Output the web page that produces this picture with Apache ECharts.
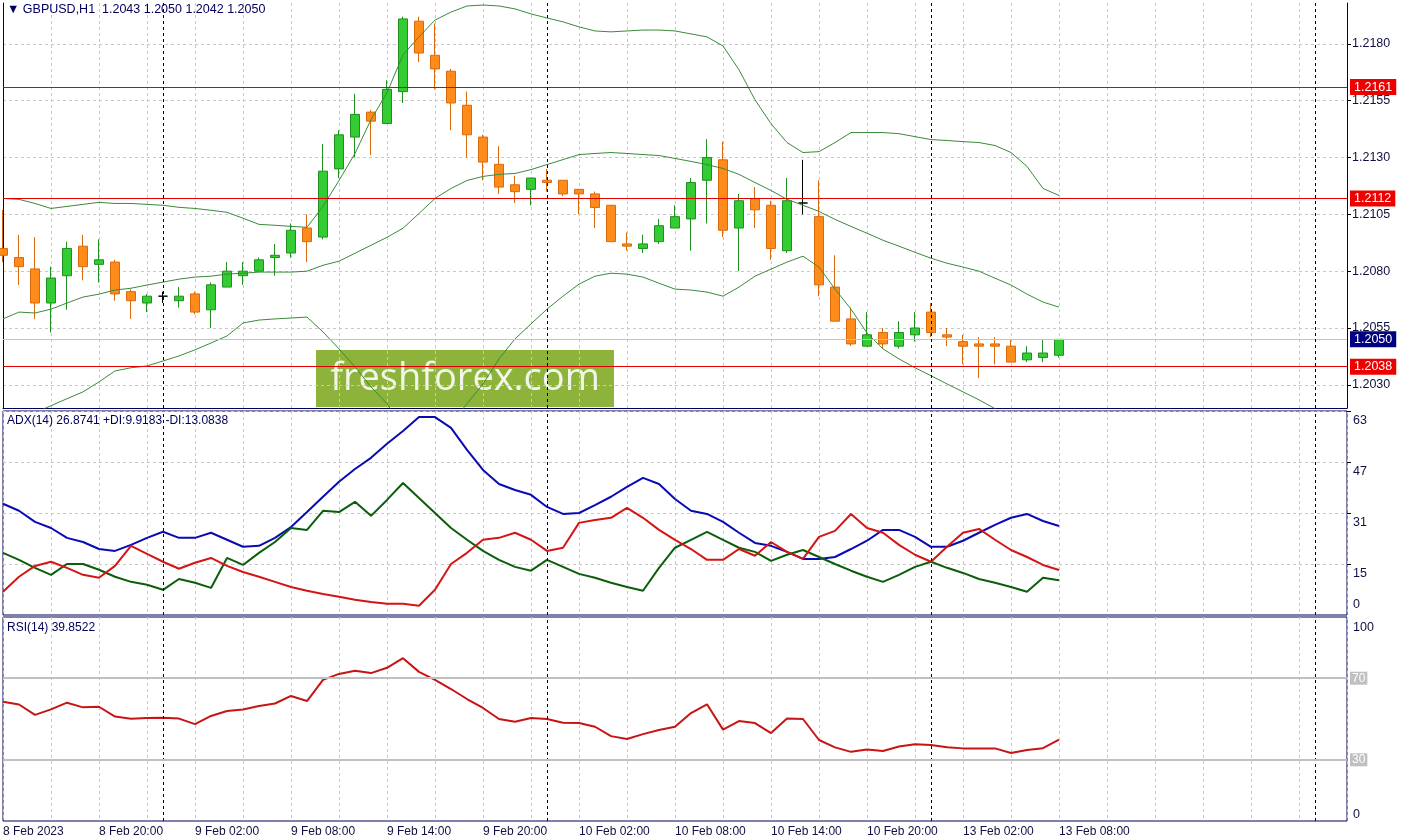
<!DOCTYPE html>
<html><head><meta charset="utf-8">
<script src="https://cdn.jsdelivr.net/npm/echarts@6/dist/echarts.min.js"></script>
<style>html,body{margin:0;padding:0;background:#fff}#c{width:1408px;height:838px}</style>
</head><body><div id="c"></div>
<script>
// ---- categories (hourly bars, H1) ----
const dayHours = [['8 Feb',14,23],['9 Feb',0,23],['10 Feb',0,23],['13 Feb',0,23],['14 Feb',0,2]];
const categories = [];
dayHours.forEach(d => { for (let h = d[1]; h <= d[2]; h++) categories.push(d[0] + ' ' + String(h).padStart(2,'0') + ':00'); });
const tickLabels = ['8 Feb 2023','8 Feb 20:00','9 Feb 02:00','9 Feb 08:00','9 Feb 14:00','9 Feb 20:00','10 Feb 02:00','10 Feb 08:00','10 Feb 14:00','10 Feb 20:00','13 Feb 02:00','13 Feb 08:00'];
const separators = [10,34,58,82];

// ---- GBPUSD H1 prices ----
const opens = [1.2090,1.2086,1.2081,1.2066,1.2078,1.2091,1.2083,1.2084,1.2071,1.2066,1.2069,1.2067,1.2070,1.2063,1.2073,1.2078,1.2080,1.2086,1.2088,1.2099,1.2095,1.2125,1.2139,1.2150,1.2145,1.2159,1.2190,1.2175,1.2168,1.2153,1.2139,1.2127,1.2118,1.2116,1.2120,1.2120,1.2116,1.2114,1.2109,1.2092,1.2090,1.2093,1.2099,1.2103,1.2120,1.2129,1.2099,1.2112,1.2109,1.2089,1.2110,1.2104,1.2073,1.2059,1.2047,1.2053,1.2047,1.2052,1.2062,1.2052,1.2049,1.2048,1.2048,1.2047,1.2041,1.2042,1.2043];
const highs = [1.2107,1.2096,1.2095,1.2082,1.2093,1.2096,1.2094,1.2085,1.2072,1.2070,1.2071,1.2073,1.2071,1.2075,1.2084,1.2084,1.2086,1.2092,1.2101,1.2105,1.2136,1.2142,1.2158,1.2151,1.2164,1.2192,1.2192,1.2189,1.2169,1.2159,1.2140,1.2135,1.2122,1.2121,1.2125,1.2120,1.2116,1.2115,1.2109,1.2097,1.2096,1.2103,1.2109,1.2121,1.2138,1.2137,1.2114,1.2117,1.2111,1.2121,1.2129,1.2120,1.2087,1.2064,1.2062,1.2055,1.2058,1.2062,1.2066,1.2055,1.2052,1.2051,1.2051,1.2050,1.2047,1.2050,1.2050];
const lows = [1.2084,1.2074,1.2059,1.2053,1.2063,1.2076,1.2075,1.2067,1.2059,1.2062,1.2066,1.2064,1.2061,1.2055,1.2073,1.2074,1.2080,1.2078,1.2086,1.2084,1.2094,1.2121,1.2130,1.2131,1.2145,1.2154,1.2172,1.2160,1.2142,1.2130,1.2120,1.2114,1.2110,1.2109,1.2115,1.2113,1.2105,1.2099,1.2093,1.2089,1.2088,1.2092,1.2099,1.2089,1.2101,1.2095,1.2080,1.2099,1.2085,1.2088,1.2105,1.2069,1.2058,1.2047,1.2047,1.2046,1.2046,1.2049,1.2051,1.2047,1.2039,1.2033,1.2039,1.2040,1.2040,1.2040,1.2042];
const closes = [1.2087,1.2082,1.2066,1.2077,1.2090,1.2082,1.2085,1.2070,1.2067,1.2069,1.2069,1.2069,1.2062,1.2074,1.2080,1.2080,1.2085,1.2087,1.2098,1.2093,1.2124,1.2140,1.2149,1.2146,1.2160,1.2191,1.2176,1.2169,1.2154,1.2140,1.2128,1.2117,1.2115,1.2121,1.2119,1.2114,1.2114,1.2108,1.2093,1.2091,1.2092,1.2100,1.2104,1.2119,1.2130,1.2098,1.2111,1.2107,1.2090,1.2111,1.2110,1.2074,1.2058,1.2048,1.2052,1.2048,1.2053,1.2055,1.2053,1.2051,1.2047,1.2047,1.2047,1.2040,1.2044,1.2044,1.2050];

// ---- Bollinger Bands ----
const bbUpper = [1.21120,1.21116,1.21098,1.21076,1.21085,1.21094,1.21103,1.21098,1.21098,1.21094,1.21090,1.21081,1.21076,1.21068,1.21059,1.21033,1.21006,1.21002,1.20997,1.20993,1.21085,1.21199,1.21318,1.21467,1.21585,1.21752,1.21831,1.21905,1.21940,1.21967,1.21971,1.21967,1.21954,1.21932,1.21914,1.21897,1.21875,1.21857,1.21853,1.21857,1.21861,1.21861,1.21857,1.21844,1.21831,1.21791,1.21686,1.21554,1.21449,1.21366,1.21322,1.21326,1.21366,1.21410,1.21410,1.21410,1.21405,1.21392,1.21379,1.21375,1.21370,1.21366,1.21353,1.21322,1.21261,1.21164,1.21133];
const bbMiddle = [1.20590,1.20620,1.20616,1.20633,1.20660,1.20686,1.20699,1.20717,1.20725,1.20739,1.20752,1.20765,1.20774,1.20778,1.20787,1.20791,1.20796,1.20796,1.20796,1.20800,1.20826,1.20844,1.20879,1.20914,1.20949,1.20989,1.21054,1.21120,1.21164,1.21199,1.21217,1.21226,1.21230,1.21247,1.21269,1.21291,1.21313,1.21318,1.21322,1.21318,1.21313,1.21309,1.21296,1.21283,1.21269,1.21252,1.21226,1.21190,1.21155,1.21116,1.21090,1.21063,1.21028,1.20997,1.20967,1.20936,1.20910,1.20883,1.20857,1.20835,1.20818,1.20800,1.20769,1.20739,1.20699,1.20664,1.20642];
const bbLower = [1.20107,1.20142,1.20177,1.20208,1.20239,1.20269,1.20313,1.20361,1.20375,1.20383,1.20405,1.20427,1.20454,1.20484,1.20515,1.20572,1.20585,1.20590,1.20594,1.20598,1.20533,1.20458,1.20379,1.20291,1.20217,1.20107,1.20041,1.20063,1.20129,1.20217,1.20304,1.20414,1.20502,1.20568,1.20633,1.20690,1.20743,1.20778,1.20791,1.20787,1.20774,1.20747,1.20721,1.20717,1.20708,1.20690,1.20730,1.20778,1.20809,1.20840,1.20866,1.20818,1.20721,1.20633,1.20528,1.20458,1.20414,1.20375,1.20340,1.20304,1.20269,1.20234,1.20195,1.20160,1.20125,1.20090,1.20054];

// ---- levels ----
const levelLines = [1.2161, 1.2112, 1.2038];
const lastPrice = 1.2050;
const priceTicks = [1.2030,1.2055,1.2080,1.2105,1.2130,1.2155,1.2180];

// ---- ADX(14) ----
const adx = [33.9,31.7,28.2,26.3,23.2,21.9,19.7,19.1,21.0,23.2,25.1,23.2,23.2,24.8,22.6,20.4,20.7,23.2,26.6,31.3,36.1,40.8,44.8,48.3,52.7,56.7,61.1,61.1,57.7,50.8,44.5,40.1,38.2,36.7,32.9,30.7,31.0,33.5,36.1,39.2,42.0,40.1,35.4,31.7,30.7,28.2,24.8,21.6,20.7,18.8,16.6,16.6,17.2,19.7,22.3,25.7,25.7,23.5,20.4,20.4,22.3,24.8,27.3,29.5,30.7,28.5,26.9];
const plusDI = [18.5,16.3,13.8,11.6,15.0,15.0,13.2,11.0,9.4,8.5,6.9,10.3,9.1,7.5,16.9,14.7,18.5,21.9,26.3,25.7,31.7,31.3,34.5,30.1,35.1,40.4,35.7,31.0,26.3,22.6,19.1,16.3,14.1,12.9,16.3,14.1,11.9,10.7,9.1,7.8,6.6,13.8,20.1,22.6,25.1,22.6,20.1,18.8,16.0,17.9,19.4,17.2,15.0,12.9,11.0,9.4,11.6,14.1,15.7,13.8,12.2,10.3,9.1,7.8,6.3,10.7,9.9];
const minusDI = [6.3,11.0,14.4,15.7,13.8,11.6,10.7,14.4,20.7,18.2,15.7,13.5,15.4,16.9,14.4,12.5,11.0,9.4,7.8,6.6,5.6,4.7,3.8,3.1,2.5,2.5,1.9,6.9,15.0,18.5,22.6,23.2,24.8,22.6,19.1,20.1,27.9,28.8,29.5,32.6,29.5,25.7,22.6,19.7,16.3,16.3,19.7,17.6,21.9,18.8,16.6,23.5,25.4,30.7,26.3,24.8,21.0,17.9,15.7,20.4,24.8,26.0,22.6,19.4,17.2,14.7,13.1];
const adxTicks = [15,31,47,63];

// ---- RSI(14) ----
const rsi = [58.5,57.1,52.0,54.7,58.0,55.7,56.0,51.2,50.1,50.5,50.6,50.2,47.5,51.5,53.9,54.7,56.4,57.6,61.3,58.8,69.2,72.1,73.7,72.5,75.1,79.8,73.1,69.2,64.7,59.8,55.4,50.0,48.7,50.5,50.0,48.2,48.0,46.2,41.6,40.2,42.6,44.6,46.2,52.9,57.2,44.8,49.0,48.0,43.1,50.2,50.0,39.7,36.1,33.9,35.1,34.3,36.5,37.6,37.2,36.1,35.6,35.6,35.6,33.3,34.8,35.7,39.85];
const rsiLevels = [70, 30];

const candleData = opens.map((o, i) => [o, closes[i], lows[i], highs[i]]);

const FONT = '"Liberation Sans", Arial, sans-serif';
const NAVY = '#00005a';
const TXT = '#101040';
const gridLine = {color:'#c8c8c8', type:[3,3], width:1};
const sepMark = {
  symbol:'none', silent:true, animation:false,
  label:{show:false},
  lineStyle:{color:'#000', type:[3,3], width:1},
  data: separators.map(i => ({xAxis:i}))
};
const boxLabel = (txt, bg) => ({show:true, position:'end', distance:3, formatter:txt, color:'#fff', backgroundColor:bg, padding:[2,4,1,4], fontSize:12.5, fontFamily:FONT});

function xAx(g) {
  return {
    type:'category', gridIndex:g, data:categories, boundaryGap:false,
    axisLine:{show:g===0, onZero:false, lineStyle:{color:NAVY, width:1}}, axisTick:{show:false},
    axisLabel:{show:g===2, interval:5, align:'left', fontSize:12, color:TXT, margin:5, fontFamily:FONT,
      formatter:(v, idx) => (idx % 6 === 0 && tickLabels[idx/6] !== undefined) ? tickLabels[idx/6] : ''},
    splitLine:{show:true, interval:2, lineStyle:gridLine}
  };
}
const axLabel = {fontSize:12.5, color:TXT, fontFamily:FONT};

const option = {
  animation:false,
  backgroundColor:'#ffffff',
  textStyle:{fontFamily:FONT},
  title:[
    {text:'▼ GBPUSD,H1  1.2043 1.2050 1.2042 1.2050', left:7, top:3, padding:0, textStyle:{fontSize:12.5, fontWeight:'normal', color:NAVY, fontFamily:FONT}},
    {text:'ADX(14) 26.8741 +DI:9.9183 -DI:13.0838', left:7, top:415, padding:0, textStyle:{fontSize:12, fontWeight:'normal', color:NAVY, fontFamily:FONT}},
    {text:'RSI(14) 39.8522', left:7, top:622, padding:0, textStyle:{fontSize:12, fontWeight:'normal', color:NAVY, fontFamily:FONT}}
  ],
  grid:[
    {left:3, top:3, width:1344, height:405, show:false},
    {left:3, top:411, width:1344, height:204, show:true, borderColor:NAVY, borderWidth:1, backgroundColor:'transparent'},
    {left:3, top:617, width:1344, height:204, show:true, borderColor:NAVY, borderWidth:1, backgroundColor:'transparent'}
  ],
  xAxis:[xAx(0), xAx(1), xAx(2)],
  yAxis:[
    {type:'value', gridIndex:0, position:'right', min:1.20198, max:1.21980, scale:true,
      axisLine:{show:true, lineStyle:{color:NAVY, width:1}},
      axisTick:{show:true, length:4, customValues:priceTicks, lineStyle:{color:'#000'}},
      axisLabel:Object.assign({customValues:priceTicks, margin:5, formatter:v => v.toFixed(4)}, axLabel),
      splitLine:{show:true, lineStyle:gridLine}},
    {type:'value', gridIndex:1, position:'right', min:-1, max:63,
      axisLine:{show:false},
      axisTick:{show:true, length:4, customValues:adxTicks, lineStyle:{color:'#000'}},
      axisLabel:Object.assign({customValues:adxTicks, margin:6, verticalAlign:'top', padding:[3,0,0,0]}, axLabel),
      splitLine:{show:true, lineStyle:gridLine}},
    {type:'value', gridIndex:1, position:'right', min:-1, max:63,
      axisLine:{show:false}, axisTick:{show:false}, splitLine:{show:false},
      axisLabel:Object.assign({customValues:[0], margin:6, verticalAlign:'bottom', padding:[0,0,1,0]}, axLabel)},
    {type:'value', gridIndex:2, position:'right', min:0, max:100,
      axisLine:{show:false}, axisTick:{show:false}, splitLine:{show:false},
      axisLabel:Object.assign({customValues:[100], margin:6, verticalAlign:'top', padding:[4,0,0,0]}, axLabel)},
    {type:'value', gridIndex:2, position:'right', min:0, max:100,
      axisLine:{show:false}, axisTick:{show:false}, splitLine:{show:false},
      axisLabel:Object.assign({customValues:[0], margin:6, verticalAlign:'bottom'}, axLabel)},
    {type:'value', gridIndex:0, position:'left', min:1.20198, max:1.21980,
      axisLine:{show:true, lineStyle:{color:NAVY, width:1}}, axisTick:{show:false}, axisLabel:{show:false}, splitLine:{show:false}}
  ],
  series:[
    {type:'line', xAxisIndex:0, yAxisIndex:0, data:[], silent:true, z:1,
      markLine:{symbol:'none', silent:true, animation:false, precision:5,
        data:[
          {yAxis:lastPrice, lineStyle:{color:'#c4c4c4', width:1, type:'solid'}, label:boxLabel(lastPrice.toFixed(4), '#000080')},
          ...levelLines.map(v => ({yAxis:v, lineStyle:{color:'#e00000', width:1, type:'solid'}, label:boxLabel(v.toFixed(4), '#ee0000')}))
        ]}},
    {type:'candlestick', xAxisIndex:0, yAxisIndex:0, data:candleData, barWidth:10, z:2,
      itemStyle:{color:'#33cc33', color0:'#ff8c1a', borderColor:'#1f8f1f', borderColor0:'#d96a0c', borderColorDoji:'#000000', borderWidth:1},
      emphasis:{disabled:true}},
    {type:'line', xAxisIndex:0, yAxisIndex:0, data:bbUpper, showSymbol:false, z:3, lineStyle:{color:'#3a8a3a', width:1}, silent:true, markLine:sepMark},
    {type:'line', xAxisIndex:0, yAxisIndex:0, data:bbMiddle, showSymbol:false, z:3, lineStyle:{color:'#3a8a3a', width:1}, silent:true},
    {type:'line', xAxisIndex:0, yAxisIndex:0, data:bbLower, showSymbol:false, z:3, lineStyle:{color:'#3a8a3a', width:1}, silent:true},
    {type:'line', xAxisIndex:1, yAxisIndex:1, data:adx, showSymbol:false, z:3, lineStyle:{color:'#0a0ab4', width:2}, silent:true, markLine:sepMark},
    {type:'line', xAxisIndex:1, yAxisIndex:1, data:plusDI, showSymbol:false, z:3, lineStyle:{color:'#0b5e0b', width:2}, silent:true},
    {type:'line', xAxisIndex:1, yAxisIndex:1, data:minusDI, showSymbol:false, z:3, lineStyle:{color:'#d41515', width:2}, silent:true},
    {type:'line', xAxisIndex:2, yAxisIndex:3, data:rsi, showSymbol:false, z:3, lineStyle:{color:'#c81414', width:2}, silent:true,
      markLine:{symbol:'none', silent:true, animation:false,
        data:[
          ...separators.map(i => ({xAxis:i, lineStyle:{color:'#000', type:[3,3], width:1}, label:{show:false}})),
          ...rsiLevels.map(v => ({yAxis:v, lineStyle:{color:'#c0c0c0', type:'solid', width:2},
            label:{show:true, position:'end', distance:3, formatter:String(v), color:'#fff', backgroundColor:'#c0c0c0', padding:[1,2,0,2], fontSize:12, fontFamily:FONT}}))
        ]}}
  ],
  graphic:[
    {type:'group', left:316, top:350, z:100, children:[
      {type:'rect', shape:{x:0, y:0, width:298, height:57}, style:{fill:'#8db33b'}},
      {type:'text', x:149, y:29, style:{text:'freshforex.com', fill:'#f2f5ea', font:'38px "Open Sans", sans-serif', textAlign:'center', textVerticalAlign:'middle'}}
    ]}
  ]
};
const chart = echarts.init(document.getElementById('c'), null, {renderer:'canvas', width:1408, height:838});
chart.setOption(option);
</script>
</body></html>
